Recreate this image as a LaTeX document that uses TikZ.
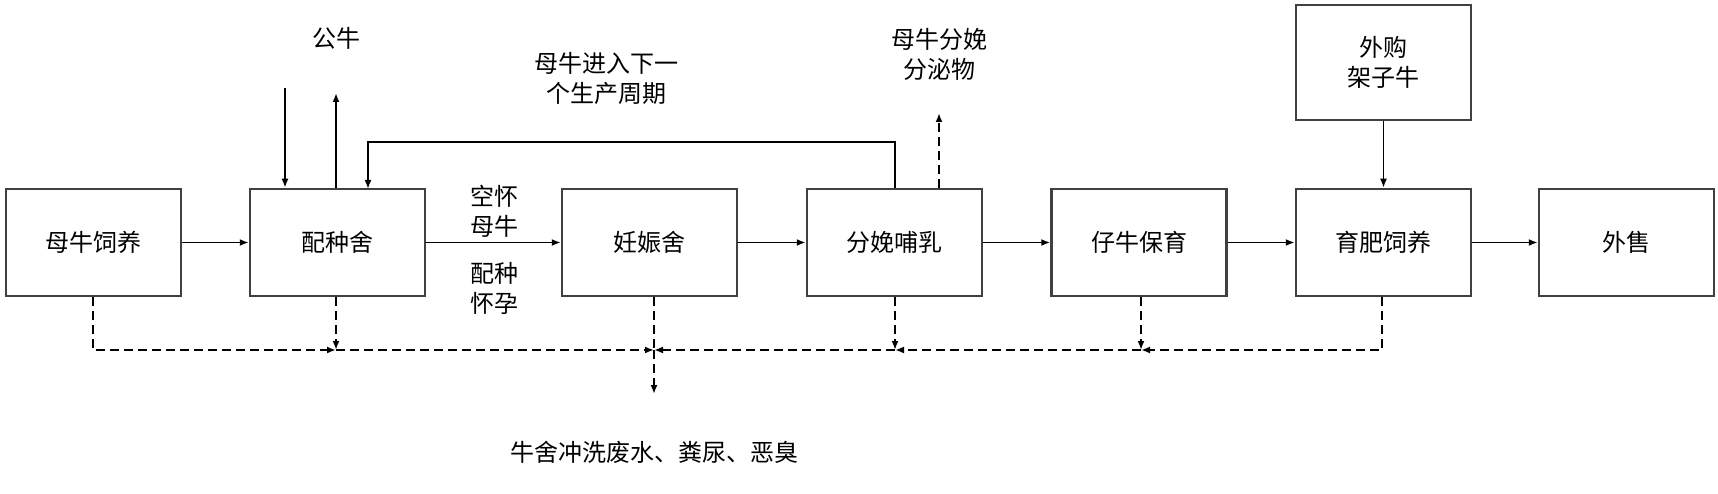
\documentclass[tikz,border=0pt]{standalone}
\usepackage{fontspec}
\setmainfont{Noto Sans CJK SC}
\usetikzlibrary{arrows.meta}
\begin{document}
\begin{tikzpicture}[x=1pt,y=-1pt,
  box/.style={draw,line width=2.5pt,draw=black!75,minimum width=175pt,minimum height=107pt,inner sep=0pt,font=\fontsize{24}{30}\selectfont},
  lbl/.style={font=\fontsize{24}{30}\selectfont,align=center,inner sep=0pt},
  arr/.style={line width=1.8pt,-{Latex[length=9pt,width=7pt]}},
  darr/.style={line width=1.8pt,dashed,dash pattern=on 9pt off 5pt,-{Latex[length=9pt,width=7pt]}},
  dl/.style={line width=1.8pt,dashed,dash pattern=on 9pt off 5pt}]
\useasboundingbox (0,0) rectangle (1718,494);
\node[box] (b1) at (93.5,242.5) {母牛饲养};
\node[box] (b2) at (337.5,242.5) {配种舍};
\node[box] (b3) at (649.5,242.5) {妊娠舍};
\node[box] (b4) at (894.5,242.5) {分娩哺乳};
\node[box] (b5) at (1139,242.5) {仔牛保育};
\node[box] (b6) at (1383.5,242.5) {育肥饲养};
\node[box] (b7) at (1626.5,242.5) {外售};
\node[box,minimum height=115pt,align=center] (buy) at (1383.5,62.5) {外购\\架子牛};
\draw[arr] (b1) -- (b2);
\draw[arr] (b2) -- (b3);
\draw[arr] (b3) -- (b4);
\draw[arr] (b4) -- (b5);
\draw[arr] (b5) -- (b6);
\draw[arr] (b6) -- (b7);
\draw[arr] (buy) -- (b6);
\node[lbl] (kh) at (494,211) {空怀\\母牛};
\node[lbl] (pz) at (494,288) {配种\\怀孕};
\node[lbl] (gn) at (336,38) {公牛};
\coordinate (gin) at (285,88);
\coordinate (gout) at (336,93);
\draw[arr] (gin) -- (gin|-b2.north);
\draw[arr] (gout|-b2.north) -- (gout);
\node[lbl] (cyc) at (606,78) {母牛进入下一\\个生产周期};
\coordinate (fb) at (895,142);
\draw[arr] (fb|-b4.north) -- (fb) -- (368,142) -- (368,189);
\node[lbl] (fm) at (939,54) {母牛分娩\\分泌物};
\coordinate (fmt) at (939,113);
\draw[darr] (fmt|-b4.north) -- (fmt);
\coordinate (c1) at (93,350);
\coordinate (c2) at (336,350);
\coordinate (c3) at (654,350);
\coordinate (c4) at (895,350);
\coordinate (c5) at (1141,350);
\coordinate (c6) at (1382,350);
\coordinate (out) at (654,394);
\draw[darr] (c1|-b1.south) -- (c1) -- (c2);
\draw[darr] (c2|-b2.south) -- (c2);
\draw[darr] (c2) -- (c3);
\draw[dl] (c3|-b3.south) -- (c3);
\draw[darr] (c3) -- (out);
\draw[darr] (c6|-b6.south) -- (c6) -- (c5);
\draw[darr] (c5|-b5.south) -- (c5);
\draw[darr] (c5) -- (c4);
\draw[darr] (c4|-b4.south) -- (c4);
\draw[darr] (c4) -- (c3);
\node[lbl] (waste) at (654,452) {牛舍冲洗废水、粪尿、恶臭};
\end{tikzpicture}
\end{document}
